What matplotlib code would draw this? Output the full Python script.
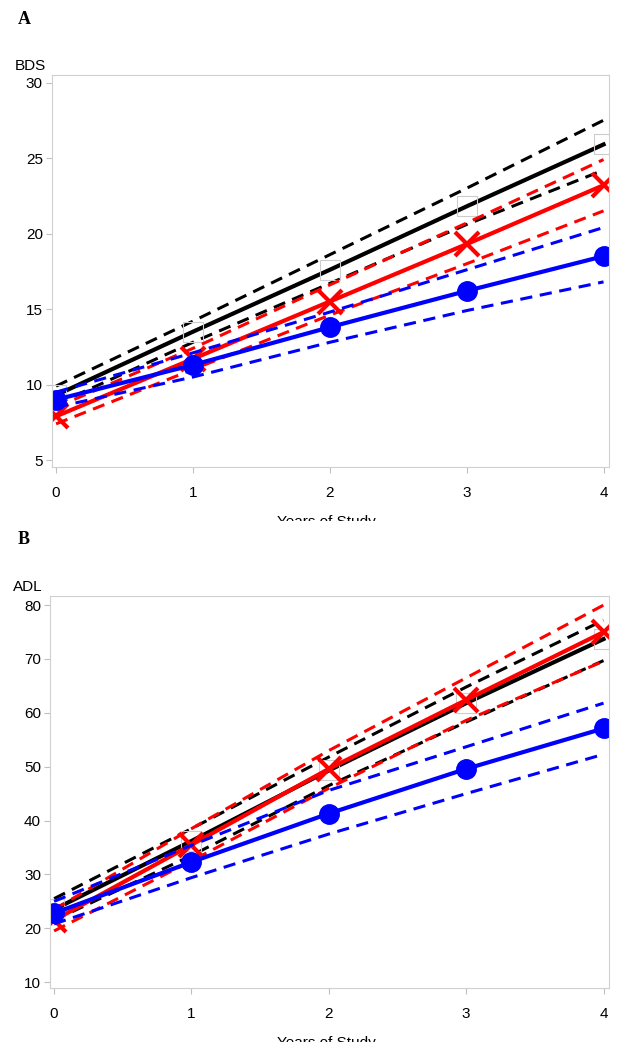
import matplotlib
matplotlib.use("Agg")
import matplotlib.pyplot as plt
from matplotlib.transforms import Bbox, TransformedBbox

plt.rcParams['font.family'] = ['Liberation Sans', 'DejaVu Sans']

years = [0, 1, 2, 3, 4]

# panel A - BDS
bds_black = [9.3, 13.5, 17.6, 21.8, 25.9]
bds_black_hi = [9.9, 14.2, 18.6, 23.0, 27.5]
bds_black_lo = [8.7, 12.8, 16.7, 20.6, 24.2]
bds_red = [7.9, 11.7, 15.5, 19.3, 23.2]
bds_red_hi = [8.5, 12.4, 16.6, 20.7, 24.9]
bds_red_lo = [7.4, 11.0, 14.6, 18.0, 21.5]
bds_blue = [9.0, 11.3, 13.8, 16.2, 18.5]
bds_blue_hi = [9.5, 12.1, 14.8, 17.6, 20.4]
bds_blue_lo = [8.5, 10.5, 12.8, 14.9, 16.8]

# panel B - ADL
adl_black = [23.5, 36.2, 49.3, 61.8, 73.7]
adl_black_hi = [25.5, 38.5, 51.8, 64.8, 77.2]
adl_black_lo = [21.5, 33.5, 46.5, 58.3, 69.7]
adl_red = [21.5, 35.5, 49.6, 62.4, 75.0]
adl_red_hi = [23.5, 38.5, 53.0, 66.5, 80.0]
adl_red_lo = [19.5, 32.5, 46.0, 58.6, 69.6]
adl_blue = [22.8, 32.3, 41.3, 49.6, 57.1]
adl_blue_hi = [25.0, 35.4, 45.6, 53.7, 61.8]
adl_blue_lo = [20.8, 29.4, 37.5, 45.0, 52.3]

fig = plt.figure(figsize=(6.24, 10.5), dpi=100)

def draw(ax, series, ylim, yticks):
    dash = dict(lw=2.2, dashes=(4, 2.5))
    for mean, hi, lo, col in series:
        ax.plot(years, hi, color=col, **dash)
        ax.plot(years, lo, color=col, **dash)
        if col == 'black':
            ax.plot(years, mean, color=col, lw=3)
            ax.plot(years, mean, 's', ms=14, mfc='none', mec='#cccccc', mew=0.8)
        elif col == 'red':
            ax.plot(years, mean, color=col, lw=3, marker='x', ms=17, mew=3)
        else:
            ax.plot(years, mean, color=col, lw=3, marker='o', ms=14)
    ax.set_xlim(-0.03, 4.04)
    ax.set_ylim(*ylim)
    ax.set_xticks(years)
    ax.set_yticks(yticks)
    for s in ax.spines.values():
        s.set_color('#d0d0d0')
    ax.tick_params(colors='#c0c0c0', labelcolor='black', labelsize=11, length=4)
    ax.tick_params(axis='y', pad=2.5)
    ax.tick_params(axis='x', pad=10)

axA = fig.add_axes([0.0833, 0.5552, 0.8927, 0.3734])
draw(axA, [(bds_black, bds_black_hi, bds_black_lo, 'black'),
           (bds_red, bds_red_hi, bds_red_lo, 'red'),
           (bds_blue, bds_blue_hi, bds_blue_lo, 'blue')],
     (4.54, 30.5), [5, 10, 15, 20, 25, 30])

axB = fig.add_axes([0.0801, 0.0590, 0.8959, 0.3734])
draw(axB, [(adl_black, adl_black_hi, adl_black_lo, 'black'),
           (adl_red, adl_red_hi, adl_red_lo, 'red'),
           (adl_blue, adl_blue_hi, adl_blue_lo, 'blue')],
     (8.9, 81.7), [10, 20, 30, 40, 50, 60, 70, 80])

fig.text(24 / 624, 1 - 19 / 1050, 'A', family='Liberation Serif', weight='bold',
         fontsize=13, ha='center', va='center')
fig.text(24 / 624, 1 - 540 / 1050, 'B', family='Liberation Serif', weight='bold',
         fontsize=13, ha='center', va='center')
fig.text(30 / 624, 1 - 66 / 1050, 'BDS', fontsize=11, ha='center', va='center')
fig.text(28 / 624, 1 - 587 / 1050, 'ADL', fontsize=11, ha='center', va='center')

# x-axis titles are cut off in the original, only the tops of the letters show
for top, cut in [(515, 521), (1036, 1042)]:
    t = fig.text(326 / 624, 1 - top / 1050, 'Years of Study', fontsize=11,
                 ha='center', va='top', clip_on=True)
    t.set_clip_box(TransformedBbox(Bbox([[0, 1 - cut / 1050], [1, 1 - (top - 10) / 1050]]),
                                   fig.transFigure))

fig.savefig('out.png', dpi=100)
